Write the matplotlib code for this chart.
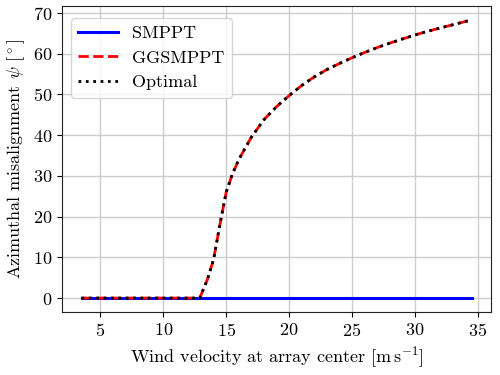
import matplotlib
matplotlib.use('Agg')
import matplotlib.pyplot as plt

plt.rcParams['font.family'] = 'serif'
plt.rcParams['font.serif'] = ['cmr10']
plt.rcParams['mathtext.fontset'] = 'cm'
plt.rcParams['axes.formatter.use_mathtext'] = True
plt.rcParams['font.size'] = 13

# wind speeds [m/s] and yaw misalignment [deg]
v_smppt = [3.5, 34.5]
psi_smppt = [0, 0]

v_opt = [3.5, 12.9, 13.5, 14, 14.5, 15, 15.5, 16, 17, 18, 19, 20, 21, 22, 23,
         24, 25, 26, 27, 28, 29, 30, 31, 32, 33, 34.5]
psi_opt = [0, 0, 4.5, 9.5, 18, 26, 30.5, 34, 39.5, 43.8, 47, 49.7, 52.2, 54.3,
           56.1, 57.6, 59.0, 60.3, 61.5, 62.6, 63.6, 64.6, 65.5, 66.3, 67.1, 68.3]
psi_gg = psi_opt

fig, ax = plt.subplots(figsize=(5, 3.75), dpi=100)
fig.subplots_adjust(left=0.124, right=0.982, top=0.984, bottom=0.168)

ax.plot(v_smppt, psi_smppt, c='b', lw=2.2, label='SMPPT', zorder=2)
ax.plot(v_opt, psi_gg, c='r', ls='--', lw=2, label='GGSMPPT', zorder=3)
ax.plot(v_opt, psi_opt, c='k', ls=':', lw=2, label='Optimal', zorder=4)

ax.grid(True, color='#cccccc', lw=1)
ax.set_axisbelow(True)
ax.set_xticks([5, 10, 15, 20, 25, 30, 35])
ax.set_yticks([0, 10, 20, 30, 40, 50, 60, 70])
for s in ax.spines.values():
    s.set_color('#222222')
ax.set_xlabel(r'Wind velocity at array center [$\mathrm{m\,s^{-1}}$]')
ax.set_ylabel(r'Azimuthal misalignment $\psi$ [$^\circ$]')
ax.legend(loc='upper left', bbox_to_anchor=(0, 0.99), handlelength=2.2)

fig.savefig('out.png', dpi=100)
